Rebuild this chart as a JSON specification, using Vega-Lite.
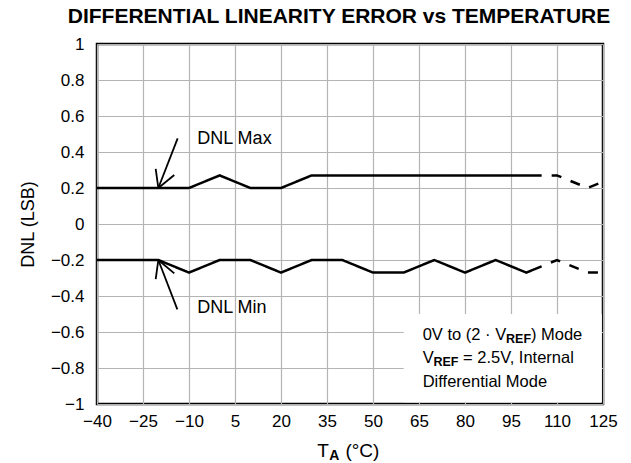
{
  "$schema": "https://vega.github.io/schema/vega-lite/v6.json",
  "width": 506,
  "height": 360,
  "autosize": "none",
  "padding": {"left": 97, "top": 44, "right": 28, "bottom": 59},
  "background": "white",
  "title": {"text": "DIFFERENTIAL LINEARITY ERROR vs TEMPERATURE", "fontSize": 21, "fontWeight": "bold", "anchor": "middle", "dx": -11, "offset": 8, "color": "black"},
  "config": {
    "font": "Liberation Sans",
    "view": {"stroke": "black", "strokeWidth": 2.5},
    "axis": {"grid": true, "gridColor": "#b4b4b4", "gridWidth": 1.2, "domain": false, "ticks": false, "tickSize": 0, "labelColor": "black", "labelFontSize": 17, "titleColor": "black", "titleFontWeight": "normal"}
  },
  "datasets": {
    "lines": [
      {"t": -40, "dnl": 0.2, "series": "max", "seg": "solid"},
      {"t": -30, "dnl": 0.2, "series": "max", "seg": "solid"},
      {"t": -20, "dnl": 0.2, "series": "max", "seg": "solid"},
      {"t": -10, "dnl": 0.2, "series": "max", "seg": "solid"},
      {"t": 0, "dnl": 0.27, "series": "max", "seg": "solid"},
      {"t": 10, "dnl": 0.2, "series": "max", "seg": "solid"},
      {"t": 20, "dnl": 0.2, "series": "max", "seg": "solid"},
      {"t": 30, "dnl": 0.27, "series": "max", "seg": "solid"},
      {"t": 40, "dnl": 0.27, "series": "max", "seg": "solid"},
      {"t": 50, "dnl": 0.27, "series": "max", "seg": "solid"},
      {"t": 60, "dnl": 0.27, "series": "max", "seg": "solid"},
      {"t": 70, "dnl": 0.27, "series": "max", "seg": "solid"},
      {"t": 80, "dnl": 0.27, "series": "max", "seg": "solid"},
      {"t": 90, "dnl": 0.27, "series": "max", "seg": "solid"},
      {"t": 100, "dnl": 0.27, "series": "max", "seg": "solid"},
      {"t": 105, "dnl": 0.27, "series": "max", "seg": "solid"},
      {"t": 105, "dnl": 0.27, "series": "max", "seg": "dashed"},
      {"t": 110, "dnl": 0.27, "series": "max", "seg": "dashed"},
      {"t": 120, "dnl": 0.2, "series": "max", "seg": "dashed"},
      {"t": 125, "dnl": 0.235, "series": "max", "seg": "dashed"},
      {"t": -40, "dnl": -0.2, "series": "min", "seg": "solid"},
      {"t": -30, "dnl": -0.2, "series": "min", "seg": "solid"},
      {"t": -20, "dnl": -0.2, "series": "min", "seg": "solid"},
      {"t": -10, "dnl": -0.27, "series": "min", "seg": "solid"},
      {"t": 0, "dnl": -0.2, "series": "min", "seg": "solid"},
      {"t": 10, "dnl": -0.2, "series": "min", "seg": "solid"},
      {"t": 20, "dnl": -0.27, "series": "min", "seg": "solid"},
      {"t": 30, "dnl": -0.2, "series": "min", "seg": "solid"},
      {"t": 40, "dnl": -0.2, "series": "min", "seg": "solid"},
      {"t": 50, "dnl": -0.27, "series": "min", "seg": "solid"},
      {"t": 60, "dnl": -0.27, "series": "min", "seg": "solid"},
      {"t": 70, "dnl": -0.2, "series": "min", "seg": "solid"},
      {"t": 80, "dnl": -0.27, "series": "min", "seg": "solid"},
      {"t": 90, "dnl": -0.2, "series": "min", "seg": "solid"},
      {"t": 100, "dnl": -0.27, "series": "min", "seg": "solid"},
      {"t": 105, "dnl": -0.235, "series": "min", "seg": "solid"},
      {"t": 105, "dnl": -0.235, "series": "min", "seg": "dashed"},
      {"t": 110, "dnl": -0.2, "series": "min", "seg": "dashed"},
      {"t": 120, "dnl": -0.27, "series": "min", "seg": "dashed"},
      {"t": 125, "dnl": -0.27, "series": "min", "seg": "dashed"}
    ],
    "arrows": [
      {"t": -13.7, "dnl": 0.476, "t2": -20, "dnl2": 0.2},
      {"t": -20, "dnl": 0.2, "t2": -20.86, "dnl2": 0.306},
      {"t": -20, "dnl": 0.2, "t2": -14.8, "dnl2": 0.272},
      {"t": -13.8, "dnl": -0.474, "t2": -20, "dnl2": -0.2},
      {"t": -20, "dnl": -0.2, "t2": -20.86, "dnl2": -0.306},
      {"t": -20, "dnl": -0.2, "t2": -14.8, "dnl2": -0.274}
    ],
    "box": [
      {"t": 60, "t2": 124.6, "dnl": -0.5, "dnl2": -0.99}
    ],
    "notes": [
      {"t": -7.3, "dnl": 0.444, "text": "DNL Max", "kind": "label"},
      {"t": -7.3, "dnl": -0.493, "text": "DNL Min", "kind": "label"},
      {"t": 66.2, "dnl": -0.644, "text": "0V to (2 · V", "kind": "box"},
      {"t": 93.4, "dnl": -0.661, "text": "REF", "kind": "sub"},
      {"t": 101.5, "dnl": -0.644, "text": ") Mode", "kind": "box"},
      {"t": 66.2, "dnl": -0.772, "text": "V", "kind": "box"},
      {"t": 69.7, "dnl": -0.789, "text": "REF", "kind": "sub"},
      {"t": 79.35, "dnl": -0.772, "text": "= 2.5V, Internal", "kind": "box"},
      {"t": 66.2, "dnl": -0.904, "text": "Differential Mode", "kind": "box"},
      {"t": 31.84, "dnl": -1.2944, "text": "T", "kind": "axis"},
      {"t": 35.7, "dnl": -1.311, "text": "A", "kind": "axissub"},
      {"t": 41.0, "dnl": -1.2944, "text": "(°C)", "kind": "axis"}
    ]
  },
  "encoding": {
    "x": {"field": "t", "type": "quantitative", "scale": {"domain": [-40, 125], "nice": false, "zero": false},
      "axis": {"title": null, "values": [-40, -25, -10, 5, 20, 35, 50, 65, 80, 95, 110, 125], "format": "d", "labelPadding": 9, "labelFlush": false}},
    "y": {"field": "dnl", "type": "quantitative", "scale": {"domain": [-1, 1], "nice": false, "zero": false},
      "axis": {"title": "DNL (LSB)", "titleFontSize": 18, "titlePadding": 13, "values": [-1, -0.8, -0.6, -0.4, -0.2, 0, 0.2, 0.4, 0.6, 0.8, 1], "format": ".1~f", "labelPadding": 13, "labelFlush": false}}
  },
  "layer": [
    {
      "data": {"name": "box"},
      "mark": {"type": "rect", "fill": "white", "stroke": null},
      "encoding": {"x2": {"field": "t2"}, "y2": {"field": "dnl2"}}
    },
    {
      "data": {"name": "lines"},
      "mark": {"type": "line", "color": "black", "strokeWidth": 2.5, "strokeDashOffset": 10},
      "encoding": {
        "detail": {"field": "series", "type": "nominal"},
        "strokeDash": {"field": "seg", "type": "nominal", "scale": {"domain": ["solid", "dashed"], "range": [[1, 0], [10, 10]]}, "legend": null}
      }
    },
    {
      "data": {"name": "arrows"},
      "mark": {"type": "rule", "color": "black", "strokeWidth": 1.8},
      "encoding": {"x2": {"field": "t2"}, "y2": {"field": "dnl2"}}
    },
    {
      "data": {"name": "notes"},
      "transform": [{"filter": "datum.kind === 'label'"}],
      "mark": {"type": "text", "align": "left", "baseline": "alphabetic", "fontSize": 18, "color": "black"},
      "encoding": {"text": {"field": "text"}}
    },
    {
      "data": {"name": "notes"},
      "transform": [{"filter": "datum.kind === 'box'"}],
      "mark": {"type": "text", "align": "left", "baseline": "alphabetic", "fontSize": 16.5, "color": "black"},
      "encoding": {"text": {"field": "text"}}
    },
    {
      "data": {"name": "notes"},
      "transform": [{"filter": "datum.kind === 'sub'"}],
      "mark": {"type": "text", "align": "left", "baseline": "alphabetic", "fontSize": 12.5, "fontWeight": "bold", "color": "black"},
      "encoding": {"text": {"field": "text"}}
    },
    {
      "data": {"name": "notes"},
      "transform": [{"filter": "datum.kind === 'axis'"}],
      "mark": {"type": "text", "align": "left", "baseline": "alphabetic", "fontSize": 19, "color": "black", "clip": false},
      "encoding": {"text": {"field": "text"}}
    },
    {
      "data": {"name": "notes"},
      "transform": [{"filter": "datum.kind === 'axissub'"}],
      "mark": {"type": "text", "align": "left", "baseline": "alphabetic", "fontSize": 14, "fontWeight": "bold", "color": "black", "clip": false},
      "encoding": {"text": {"field": "text"}}
    }
  ]
}
